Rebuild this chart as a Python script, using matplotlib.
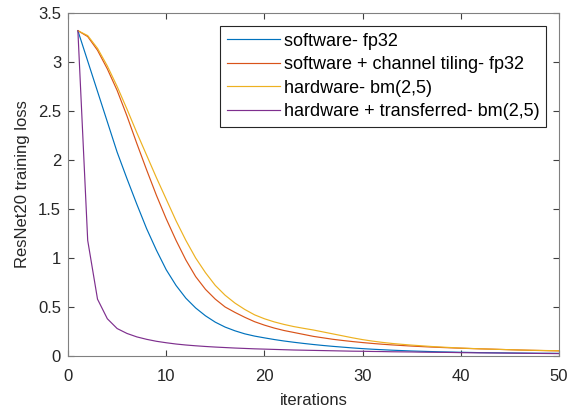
import matplotlib
matplotlib.use("Agg")
import matplotlib.pyplot as plt
from matplotlib.ticker import FormatStrFormatter
import numpy as np

plt.rcParams['font.family'] = ['Liberation Sans', 'DejaVu Sans']

iterations = np.arange(1, 51)

sw_fp32 = [3.32, 3.01, 2.70, 2.39, 2.08, 1.81, 1.55, 1.30, 1.08, 0.88,
           0.72, 0.59, 0.49, 0.41, 0.345, 0.295, 0.257, 0.226, 0.203, 0.185,
           0.168, 0.153, 0.140, 0.128, 0.117, 0.107, 0.098, 0.090, 0.082, 0.075,
           0.069, 0.064, 0.059, 0.055, 0.051, 0.048, 0.045, 0.042, 0.040, 0.038,
           0.036, 0.034, 0.033, 0.032, 0.031, 0.030, 0.029, 0.028, 0.028, 0.027]

sw_tiling_fp32 = [3.32, 3.26, 3.12, 2.93, 2.71, 2.45, 2.17, 1.90, 1.64, 1.40,
                  1.18, 0.98, 0.81, 0.68, 0.58, 0.50, 0.445, 0.395, 0.35, 0.315,
                  0.285, 0.26, 0.24, 0.22, 0.20, 0.185, 0.17, 0.158, 0.147, 0.137,
                  0.128, 0.120, 0.113, 0.107, 0.101, 0.096, 0.091, 0.087, 0.083, 0.079,
                  0.076, 0.073, 0.070, 0.067, 0.064, 0.061, 0.058, 0.056, 0.054, 0.052]

hw_bm25 = [3.32, 3.27, 3.14, 2.96, 2.75, 2.52, 2.28, 2.05, 1.82, 1.60,
           1.38, 1.18, 1.00, 0.85, 0.72, 0.62, 0.54, 0.475, 0.42, 0.38,
           0.348, 0.322, 0.30, 0.282, 0.265, 0.245, 0.225, 0.205, 0.185, 0.167,
           0.152, 0.139, 0.128, 0.119, 0.111, 0.104, 0.097, 0.091, 0.086, 0.081,
           0.077, 0.073, 0.070, 0.067, 0.064, 0.061, 0.059, 0.057, 0.055, 0.053]

hw_transferred_bm25 = [3.32, 1.18, 0.58, 0.38, 0.28, 0.23, 0.195, 0.17, 0.15, 0.135,
                       0.122, 0.112, 0.104, 0.097, 0.091, 0.086, 0.081, 0.077, 0.073, 0.070,
                       0.067, 0.064, 0.061, 0.059, 0.057, 0.055, 0.053, 0.051, 0.049, 0.048,
                       0.046, 0.045, 0.043, 0.042, 0.041, 0.039, 0.038, 0.037, 0.036, 0.034,
                       0.033, 0.032, 0.031, 0.030, 0.029, 0.028, 0.027, 0.026, 0.025, 0.024]

labels = ['software- fp32', 'software + channel tiling- fp32',
          'hardware- bm(2,5)', 'hardware + transferred- bm(2,5)']
colors = ['#0072BD', '#D95319', '#EDB120', '#7E2F8E']

fig = plt.figure(figsize=(5.72, 4.08), dpi=100)
ax = fig.add_axes([0.119, 0.1275, 0.858, 0.8405])

for ys, lab, c in zip([sw_fp32, sw_tiling_fp32, hw_bm25, hw_transferred_bm25], labels, colors):
    ax.plot(iterations, ys, color=c, lw=0.85, label=lab)

ax.set_xlim(0, 50)
ax.set_ylim(0, 3.5)
ax.set_xticks(np.arange(0, 51, 10))
ax.set_yticks(np.arange(0, 3.51, 0.5))
ax.yaxis.set_major_formatter(FormatStrFormatter('%g'))

grey = '#262626'
for s in ax.spines.values():
    s.set_color('#808080')
    s.set_linewidth(0.8)
ax.tick_params(direction='in', top=True, right=True, length=4, width=0.8,
               color='#404040', labelsize=12, labelcolor=grey)
ax.tick_params(axis='x', pad=9.5)
ax.tick_params(axis='y', pad=5)

ax.set_xlabel('iterations', fontsize=12, color=grey, labelpad=6)
ax.set_ylabel('ResNet20 training loss', fontsize=12, color=grey, labelpad=6)

leg = ax.legend(loc='upper right', bbox_to_anchor=(0.9735, 0.962), fontsize=13,
                fancybox=False, framealpha=1, edgecolor='#262626',
                handlelength=2.95, handletextpad=0.2, labelspacing=0.36,
                borderpad=0.36, borderaxespad=0)
leg.get_frame().set_linewidth(0.8)
for t in leg.get_texts():
    t.set_color('#000000')

fig.savefig('out.png', dpi=100)
